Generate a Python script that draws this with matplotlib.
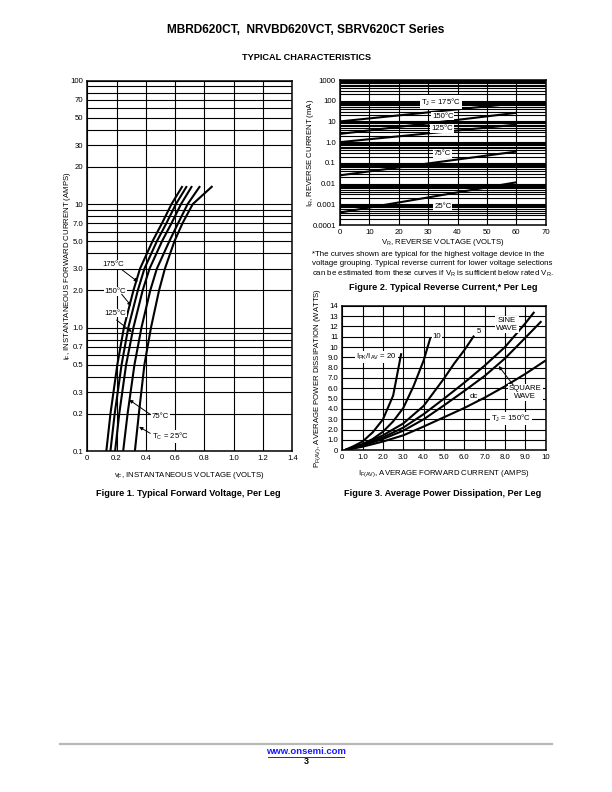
import numpy as np
import matplotlib
matplotlib.use("Agg")
import matplotlib.pyplot as plt
from matplotlib.ticker import FixedLocator, NullFormatter, LogLocator
from matplotlib import font_manager

names = {f.name for f in font_manager.fontManager.ttflist}
NARROW = 'Liberation Sans Narrow' if 'Liberation Sans Narrow' in names else 'Liberation Sans'
plt.rcParams['font.family'] = [NARROW, 'DejaVu Sans']
plt.rcParams['mathtext.fontset'] = 'custom'
plt.rcParams['mathtext.rm'] = NARROW

# ---------------- Figure 1 data: forward voltage ----------------
if_current = [0.1, 0.2, 0.5, 1.0, 2.0, 3.0, 5.0, 7.0, 10, 14]
vf_175 = [0.13, 0.158, 0.205, 0.25, 0.315, 0.36, 0.445, 0.51, 0.575, 0.65]
vf_150 = [0.158, 0.187, 0.234, 0.28, 0.345, 0.39, 0.475, 0.54, 0.605, 0.68]
vf_125 = [0.19, 0.218, 0.265, 0.315, 0.378, 0.425, 0.51, 0.575, 0.64, 0.715]
vf_75 = [0.245, 0.275, 0.322, 0.37, 0.43, 0.475, 0.56, 0.62, 0.685, 0.77]
vf_25 = [0.325, 0.352, 0.39, 0.435, 0.49, 0.53, 0.595, 0.65, 0.72, 0.855]
fig1_yticks = [0.1, 0.2, 0.3, 0.5, 0.7, 1.0, 2.0, 3.0, 5.0, 7.0, 10, 20, 30, 50, 70, 100]
fig1_ylabels = ['0.1', '0.2', '0.3', '0.5', '0.7', '1.0', '2.0', '3.0', '5.0', '7.0',
                '10', '20', '30', '50', '70', '100']
fig1_xticks = [0, 0.2, 0.4, 0.6, 0.8, 1.0, 1.2, 1.4]
fig1_xlabels = ['0', '0.2', '0.4', '0.6', '0.8', '1.0', '1.2', '1.4']

# ---------------- Figure 2 data: reverse current ----------------
vr = [0, 60]
ir_175 = [10, 75]
ir_150 = [2.5, 26]
ir_125 = [1.0, 7.0]
ir_75 = [0.025, 0.35]
ir_25 = [0.0004, 0.0115]
fig2_yticks = [0.0001, 0.001, 0.01, 0.1, 1, 10, 100, 1000]
fig2_ylabels = ['0.0001', '0.001', '0.01', '0.1', '1.0', '10', '100', '1000']
fig2_xticks = [0, 10, 20, 30, 40, 50, 60, 70]

# ---------------- Figure 3 data: power dissipation ----------------
x_20 = [0.1, 0.5, 1.0, 1.5, 2.0, 2.5, 2.9]
p_20 = [0, 0.35, 0.85, 1.75, 3.0, 5.3, 9.4]
x_10 = [0.1, 0.5, 1.0, 1.5, 2.0, 2.5, 3.0, 3.5, 4.0, 4.33]
p_10 = [0, 0.3, 0.6, 1.1, 1.8, 2.8, 4.1, 6.2, 8.7, 10.9]
x_5 = [0.1, 1, 2, 3, 4, 5, 5.5, 6, 6.48]
p_5 = [0, 0.55, 1.45, 2.6, 4.3, 6.95, 8.4, 9.7, 11.1]
x_sine = [0.1, 1, 2, 3, 4, 5, 6, 7, 8, 9, 9.44]
p_sine = [0, 0.5, 1.25, 2.2, 3.5, 5.0, 6.55, 8.2, 10.0, 12.3, 13.4]
x_square = [0.1, 1, 2, 3, 4, 5, 6, 7, 8, 9, 9.79]
p_square = [0, 0.45, 1.1, 1.9, 3.0, 4.35, 5.75, 7.2, 8.9, 10.9, 12.5]
x_dc = [0.1, 1, 2, 3, 4, 5, 6, 7, 8, 9, 10]
p_dc = [0, 0.35, 0.85, 1.45, 2.3, 3.2, 4.1, 5.1, 6.2, 7.4, 8.7]
fig3_xticks = list(range(0, 11))
fig3_xlabels = ['0', '1.0', '2.0', '3.0', '4.0', '5.0', '6.0', '7.0', '8.0', '9.0', '10']
fig3_yticks = list(range(0, 15))
fig3_ylabels = ['0', '1.0', '2.0', '3.0', '4.0', '5.0', '6.0', '7.0', '8.0', '9.0',
                '10', '11', '12', '13', '14']

TICK = 5.6
LAB = 5.6
GRID_LW = 0.8
CURVE_LW = 1.5
WB = dict(facecolor='white', edgecolor='none', pad=0.6)

fig = plt.figure(figsize=(6.12, 7.92), dpi=100)


def px_axes(l, t, r, b):
    W, H = 612.0, 792.0
    return fig.add_axes([l / W, 1 - b / H, (r - l) / W, (b - t) / H])


def style(ax):
    for s in ax.spines.values():
        s.set_linewidth(1.1)
    ax.tick_params(which='both', length=0, labelsize=TICK, pad=3)


arrow = dict(arrowstyle='-|>', lw=0.7, color='black', mutation_scale=5,
             shrinkA=0, shrinkB=0)

# ================= Figure 1 =================
ax1 = px_axes(87.3, 80.7, 292.3, 451)
ax1.set_yscale('log')
ax1.set_xlim(0, 1.4)
ax1.set_ylim(0.1, 100)
ax1.yaxis.set_major_locator(FixedLocator(fig1_yticks))
ax1.set_yticklabels(fig1_ylabels)
ax1.yaxis.set_minor_locator(LogLocator(base=10, subs=np.arange(1, 10)))
ax1.yaxis.set_minor_formatter(NullFormatter())
ax1.set_xticks(fig1_xticks)
ax1.set_xticklabels(fig1_xlabels)
ax1.grid(which='both', color='black', lw=GRID_LW)
ax1.set_axisbelow(True)
style(ax1)
for v in [vf_175, vf_150, vf_125, vf_75, vf_25]:
    ax1.plot(v, if_current, color='black', lw=CURVE_LW, solid_capstyle='butt')
ax1.set_xlabel(r'v$_\mathregular{F}$, INSTANTANEOUS VOLTAGE (VOLTS)', fontsize=LAB)
ax1.xaxis.set_label_coords(0.5, -0.051)
ax1.set_ylabel(r'i$_\mathregular{F}$, INSTANTANEOUS FORWARD CURRENT (AMPS)', fontsize=LAB)
ax1.yaxis.set_label_coords(-0.07, 0.5)

ax1.text(0.178, 3.25, '175°C', fontsize=TICK, ha='center', va='center', bbox=WB, zorder=5)
ax1.annotate('', xy=(0.345, 2.35), xytext=(0.235, 2.95), arrowprops=arrow, zorder=6)
ax1.text(0.19, 1.97, '150°C', fontsize=TICK, ha='center', va='center', bbox=WB, zorder=5)
ax1.annotate('', xy=(0.30, 1.5), xytext=(0.235, 1.86), arrowprops=arrow, zorder=6)
ax1.text(0.19, 1.31, '125°C', fontsize=TICK, ha='center', va='center', bbox=WB, zorder=5)
ax1.annotate('', xy=(0.304, 0.92), xytext=(0.2, 1.15), arrowprops=arrow, zorder=6)
ax1.text(0.50, 0.19, '75°C', fontsize=TICK, ha='center', va='center', bbox=WB, zorder=5)
ax1.annotate('', xy=(0.286, 0.26), xytext=(0.43, 0.198), arrowprops=arrow, zorder=6)
ax1.text(0.44, 0.132, r'T$_\mathregular{C}$ = 25°C', fontsize=TICK, ha='left', va='center',
         bbox=WB, zorder=5)
ax1.annotate('', xy=(0.354, 0.157), xytext=(0.43, 0.139), arrowprops=arrow, zorder=6)

# ================= Figure 2 =================
ax2 = px_axes(340, 80, 545.7, 225)
ax2.set_yscale('log')
ax2.set_xlim(0, 70)
ax2.set_ylim(0.0001, 1000)
ax2.yaxis.set_major_locator(FixedLocator(fig2_yticks))
ax2.set_yticklabels(fig2_ylabels)
ax2.yaxis.set_minor_locator(LogLocator(base=10, subs=np.arange(1, 10), numticks=50))
ax2.yaxis.set_minor_formatter(NullFormatter())
ax2.set_xticks(fig2_xticks)
ax2.set_xticklabels([str(v) for v in fig2_xticks])
ax2.grid(which='both', color='black', lw=GRID_LW)
ax2.set_axisbelow(True)
style(ax2)
for ir in [ir_175, ir_150, ir_125, ir_75, ir_25]:
    ax2.plot(vr, ir, color='black', lw=CURVE_LW, solid_capstyle='butt')
ax2.set_xlabel(r'V$_\mathregular{R}$, REVERSE VOLTAGE (VOLTS)', fontsize=LAB)
ax2.xaxis.set_label_coords(0.5, -0.082)
ax2.set_ylabel(r'I$_\mathregular{R}$, REVERSE CURRENT (mA)', fontsize=LAB)
ax2.yaxis.set_label_coords(-0.116, 0.5)
ax2.text(34.3, 87, r'T$_\mathregular{J}$ = 175°C', fontsize=TICK, ha='center', va='center',
         bbox=WB, zorder=5)
ax2.text(35, 18, '150°C', fontsize=TICK, ha='center', va='center', bbox=WB, zorder=5)
ax2.text(34.7, 4.6, '125°C', fontsize=TICK, ha='center', va='center', bbox=WB, zorder=5)
ax2.text(34.9, 0.29, '75°C', fontsize=TICK, ha='center', va='center', bbox=WB, zorder=5)
ax2.text(35, 0.00076, '25°C', fontsize=TICK, ha='center', va='center', bbox=WB, zorder=5)

# ================= Figure 3 =================
ax3 = px_axes(342.3, 305.7, 545.7, 450.3)
ax3.set_xlim(0, 10)
ax3.set_ylim(0, 14)
ax3.set_xticks(fig3_xticks)
ax3.set_xticklabels(fig3_xlabels)
ax3.set_yticks(fig3_yticks)
ax3.set_yticklabels(fig3_ylabels)
ax3.grid(which='major', color='black', lw=GRID_LW)
ax3.set_axisbelow(True)
style(ax3)
for xs, ps in [(x_20, p_20), (x_10, p_10), (x_5, p_5), (x_sine, p_sine),
               (x_square, p_square), (x_dc, p_dc)]:
    ax3.plot(xs, ps, color='black', lw=CURVE_LW, solid_capstyle='butt')
ax3.set_xlabel(r'I$_\mathregular{F(AV)}$, AVERAGE FORWARD CURRENT (AMPS)', fontsize=LAB)
ax3.xaxis.set_label_coords(0.5, -0.13)
ax3.set_ylabel(r'P$_\mathregular{F(AV)}$, AVERAGE POWER DISSIPATION (WATTS)', fontsize=LAB)
ax3.yaxis.set_label_coords(-0.09, 0.5)
ax3.text(2.68, 9.06, r'I$_\mathregular{PK}$/I$_\mathregular{AV}$ = 20', fontsize=TICK,
         ha='right', va='center', bbox=WB, zorder=5)
ax3.text(4.45, 11.0, '10', fontsize=TICK, ha='left', va='center', bbox=WB, zorder=5)
ax3.text(6.6, 11.5, '5', fontsize=TICK, ha='left', va='center', bbox=WB, zorder=5)
ax3.text(8.1, 12.2, 'SINE\nWAVE', fontsize=TICK, ha='center', va='center', bbox=WB,
         zorder=5, linespacing=1.3)
ax3.text(9.0, 5.6, 'SQUARE\nWAVE', fontsize=TICK, ha='center', va='center', bbox=WB,
         zorder=5, linespacing=1.3)
ax3.annotate('', xy=(7.69, 8.16), xytext=(8.41, 6.3), arrowprops=arrow, zorder=6)
ax3.text(6.45, 5.25, 'dc', fontsize=TICK, ha='center', va='center', bbox=WB, zorder=5)
ax3.text(8.3, 3.1, r'T$_\mathregular{J}$ = 150°C', fontsize=TICK, ha='center', va='center',
         bbox=WB, zorder=5)

# ================= Page texts =================
H = 792.0
BOLD = ['Liberation Sans', 'DejaVu Sans']
fig.text(0.5, 1 - 30 / H, 'MBRD620CT,  NRVBD620VCT, SBRV620CT Series', ha='center',
         va='center', fontsize=8.6, fontweight='bold', family=BOLD)
fig.text(0.5, 1 - 58 / H, 'TYPICAL CHARACTERISTICS', ha='center', va='center',
         fontsize=6.6, fontweight='bold', family=BOLD)
fig.text(188 / 612, 1 - 493 / H, 'Figure 1. Typical Forward Voltage, Per Leg', ha='center',
         va='center', fontsize=6.6, fontweight='bold', family=BOLD)
fig.text(443 / 612, 1 - 493 / H, 'Figure 3. Average Power Dissipation, Per Leg', ha='center',
         va='center', fontsize=6.6, fontweight='bold', family=BOLD)
fig.text(443 / 612, 1 - 287 / H, 'Figure 2. Typical Reverse Current,* Per Leg', ha='center',
         va='center', fontsize=6.6, fontweight='bold', family=BOLD)
foot = ['*The curves shown are typical for the highest voltage device in the',
        'voltage grouping. Typical reverse current for lower voltage selections',
        r'can be estimated from these curves if V$_\mathregular{R}$ is sufficient below rated V$_\mathregular{R}$.']
for i, line in enumerate(foot):
    fig.text(312 / 612, 1 - (254 + 10 * i) / H, line, ha='left', va='center',
             fontsize=5.7, family=['Liberation Sans', 'DejaVu Sans'])

fig.add_artist(plt.Line2D([60 / 612, 552 / 612], [1 - 744 / H, 1 - 744 / H],
                          color='#b8b8b8', lw=1.6))
fig.text(0.5, 1 - 752 / H, 'www.onsemi.com', ha='center', va='center', fontsize=6.8,
         fontweight='bold', color='#1a1aff', family=BOLD)
fig.add_artist(plt.Line2D([268 / 612, 344 / 612], [1 - 757 / H, 1 - 757 / H],
                          color='#1a1aff', lw=0.7))
fig.text(0.5, 1 - 762 / H, '3', ha='center', va='center', fontsize=6.4,
         fontweight='bold', family=BOLD)

fig.savefig('out.png', dpi=100)
